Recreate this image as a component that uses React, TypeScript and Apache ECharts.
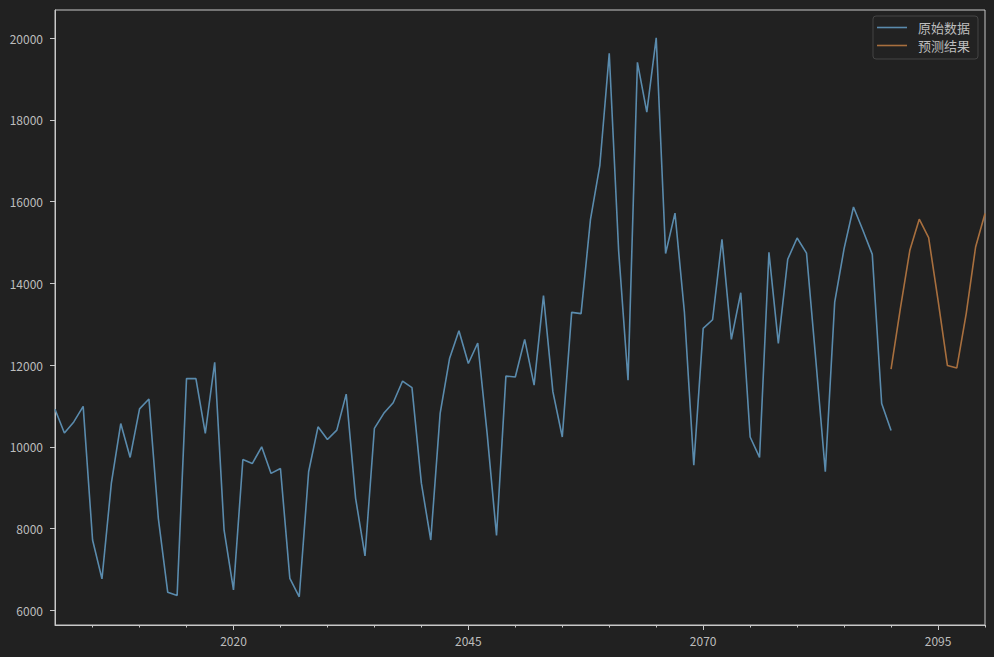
import React, { useEffect, useRef } from "react";
import * as echarts from "echarts";

const startYear = 2001;
const forecastStartYear = 2090;

const originalValues = [
  10920, 10340, 10610, 10990, 7720, 6770, 9110, 10570, 9740, 10930,
  11170, 8250, 6440, 6360, 11670, 11670, 10330, 12070, 7960, 6500,
  9690, 9590, 10000, 9350, 9470, 6780, 6330, 9390, 10490, 10180,
  10410, 11290, 8740, 7330, 10450, 10820, 11080, 11610, 11450, 9110,
  7720, 10820, 12160, 12840, 12040, 12540, 10330, 7830, 11730, 11710,
  12630, 11510, 13700, 11350, 10240, 13290, 13260, 15560, 16890, 19630,
  14800, 11630, 19410, 18190, 20010, 14730, 15720, 13300, 9550, 12900,
  13110, 15080, 12630, 13770, 10240, 9740, 14760, 12530, 14590, 15110,
  14740, 12100, 9390, 13540, 14850, 15870, 15300, 14710, 11060, 10400,
];

const forecastValues = [
  11900, 13400, 14810, 15570, 15120, 13590, 11990, 11930, 13260, 14890, 15710,
];

const yTicks = [6000, 8000, 10000, 12000, 14000, 16000, 18000, 20000];
const xMajorTicks = [2020, 2045, 2070, 2095];
const xMinorTicks = [
  2005, 2010, 2015, 2025, 2030, 2035, 2040, 2050, 2055, 2060, 2065, 2075,
  2080, 2085, 2090, 2100,
];

const seriesNames = ["原始数据", "预测结果"];

const BG = "#212121";
const AXIS = "#c8c8c8";
const LABEL = "#bdbdbd";
const FONT = '"Noto Sans CJK SC", "Noto Sans", sans-serif';
const LINE_ICON = "path://M0,0H30V1.6H0Z";

export default function App() {
  const ref = useRef<HTMLDivElement>(null);

  useEffect(() => {
    if (!ref.current) return;
    const chart = echarts.init(ref.current, undefined, { renderer: "svg" });

    const originalData = originalValues.map((v, i) => [startYear + i, v]);
    const forecastData = forecastValues.map((v, i) => [forecastStartYear + i, v]);

    const xMin = 2001;
    const xMax = 2100;

    chart.setOption({
      animation: false,
      backgroundColor: BG,
      grid: {
        left: 55,
        right: 9,
        top: 10,
        bottom: 32,
        outerBoundsMode: "none",
        containLabel: false,
        show: true,
        borderColor: AXIS,
        borderWidth: 1,
        backgroundColor: "transparent",
      },
      legend: {
        orient: "vertical",
        right: 16,
        top: 16,
        data: seriesNames.map((name) => ({ name, icon: LINE_ICON })),
        symbolKeepAspect: true,
        itemWidth: 30,
        itemHeight: 14,
        itemGap: 5,
        padding: [5, 8, 7, 4],
        backgroundColor: "#222222",
        borderColor: "#454545",
        borderWidth: 1,
        borderRadius: 3,
        textStyle: {
          color: LABEL,
          fontSize: 13,
          fontFamily: FONT,
          padding: [0, 0, 0, 6],
        },
      },
      xAxis: [
        {
          type: "value",
          min: xMin,
          max: xMax,
          position: "bottom",
          axisLine: { show: true, onZero: false, lineStyle: { color: AXIS, width: 1 } },
          axisTick: {
            show: true,
            length: 5,
            customValues: xMajorTicks,
            lineStyle: { color: AXIS, width: 1 },
          },
          axisLabel: {
            show: true,
            customValues: xMajorTicks,
            color: LABEL,
            fontSize: 12,
            fontFamily: FONT,
            margin: 9,
            formatter: (v: number) => String(v),
          },
          splitLine: { show: false },
        },
        {
          type: "value",
          min: xMin,
          max: xMax,
          position: "bottom",
          axisLine: { show: false, onZero: false },
          axisTick: {
            show: true,
            length: 2.5,
            customValues: xMinorTicks,
            lineStyle: { color: AXIS, width: 1 },
          },
          axisLabel: { show: false },
          splitLine: { show: false },
        },
      ],
      yAxis: {
        type: "value",
        min: 5640,
        max: 20690,
        axisLine: { show: true, onZero: false, lineStyle: { color: AXIS, width: 1 } },
        axisTick: {
          show: true,
          length: 5,
          customValues: yTicks,
          lineStyle: { color: AXIS, width: 1 },
        },
        axisLabel: {
          show: true,
          customValues: yTicks,
          color: LABEL,
          fontSize: 12,
          fontFamily: FONT,
          margin: 12,
          formatter: (v: number) => String(v),
        },
        splitLine: { show: false },
      },
      series: [
        {
          name: seriesNames[0],
          type: "line",
          xAxisIndex: 0,
          data: originalData,
          symbol: "none",
          lineStyle: { color: "#5a8bad", width: 1.6 },
          itemStyle: { color: "#5a8bad" },
        },
        {
          name: seriesNames[1],
          type: "line",
          xAxisIndex: 0,
          data: forecastData,
          symbol: "none",
          lineStyle: { color: "#a86f3e", width: 1.6 },
          itemStyle: { color: "#a86f3e" },
        },
      ],
    });

    return () => chart.dispose();
  }, []);

  return (
    <div
      ref={ref}
      style={{ position: "fixed", left: 0, top: 0, width: 994, height: 657 }}
    />
  );
}
